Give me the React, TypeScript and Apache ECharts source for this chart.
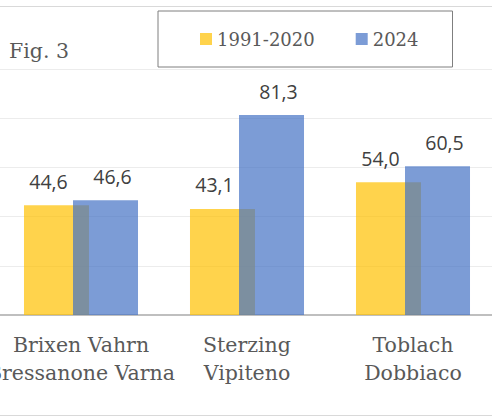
import React, { useEffect, useRef } from "react";
import * as echarts from "echarts";

const categories = [
  "Brixen Vahrn\nBressanone Varna",
  "Sterzing\nVipiteno",
  "Toblach\nDobbiaco",
];
const seriesNames = ["1991-2020", "2024"];
const normalValues = [44.6, 43.1, 54.0];
const values2024 = [46.6, 81.3, 60.5];
const yTicks = { min: 0, max: 100, interval: 20 };

const fmt = (v: number) => v.toFixed(1).replace(".", ",");

export default function App() {
  const ref = useRef<HTMLDivElement>(null);
  useEffect(() => {
    document.body.style.margin = "0";
    const chart = echarts.init(ref.current!, undefined, { renderer: "svg" });
    const serif = "'DejaVu Serif', serif";
    const labelCommon = {
      show: true,
      position: "top" as const,
      distance: 14,
      fontFamily: "'Open Sans', sans-serif",
      fontSize: 19.5,
      color: "#404040",
      opacity: 1,
      formatter: (p: any) => fmt(p.value),
    };
    chart.setOption({
      animation: false,
      backgroundColor: "#ffffff",
      grid: {
        left: -2,
        right: -4,
        top: 69,
        bottom: 102,
        containLabel: false,
        outerBoundsMode: "none",
      },
      legend: {
        left: 158,
        top: 11,
        padding: [16, 34, 16, 42],
        borderColor: "#7f7f7f",
        borderWidth: 1,
        itemWidth: 12,
        itemHeight: 12,
        itemGap: 41,
        icon: "rect",
        textStyle: {
          fontFamily: serif,
          fontSize: 18,
          color: "#595959",
          lineHeight: 24,
        },
        data: seriesNames,
      },
      xAxis: {
        type: "category",
        data: categories,
        axisLine: { show: true, lineStyle: { color: "#bfbfbf", width: 2 } },
        axisTick: { show: false },
        axisLabel: {
          interval: 0,
          margin: 16,
          fontFamily: serif,
          fontSize: 20.5,
          lineHeight: 28,
          color: "#595959",
          hideOverlap: false,
        },
      },
      yAxis: {
        type: "value",
        min: yTicks.min,
        max: yTicks.max,
        interval: yTicks.interval,
        axisLabel: { show: false },
        axisLine: { show: false },
        axisTick: { show: false },
        splitLine: { show: true, lineStyle: { color: "#ececec", width: 1 } },
      },
      series: [
        {
          name: seriesNames[0],
          type: "bar",
          data: normalValues,
          barWidth: 65,
          barGap: "-24.6%",
          itemStyle: { color: "rgba(255,192,0,0.7)" },
          label: { ...labelCommon, offset: [-8, 0] },
        },
        {
          name: seriesNames[1],
          type: "bar",
          data: values2024,
          barWidth: 65,
          barGap: "-24.6%",
          itemStyle: { color: "rgba(68,114,196,0.7)" },
          label: { ...labelCommon, offset: [7, 0] },
        },
      ],
      graphic: [
        {
          type: "line",
          shape: { x1: 0, y1: 6.5, x2: 492, y2: 6.5 },
          style: { stroke: "#d9d9d9", lineWidth: 1 },
        },
        {
          type: "line",
          shape: { x1: 0, y1: 415.5, x2: 492, y2: 415.5 },
          style: { stroke: "#d9d9d9", lineWidth: 1 },
        },
        {
          type: "text",
          left: 9,
          top: 40,
          style: {
            text: "Fig. 3",
            fontFamily: serif,
            fontSize: 20.5,
            fill: "#595959",
          },
        },
      ],
    });
    return () => chart.dispose();
  }, []);
  return (
    <div
      ref={ref}
      style={{ position: "fixed", left: 0, top: 0, width: 492, height: 417 }}
    />
  );
}
